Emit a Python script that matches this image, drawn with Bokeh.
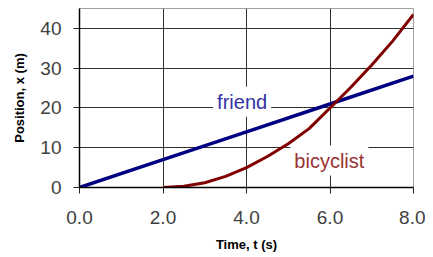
from bokeh.plotting import figure
from bokeh.models import Label, Range1d, FixedTicker
from bokeh.embed import file_html
from bokeh.resources import INLINE

# data
time_friend = [0, 2, 4, 6, 8]
pos_friend = [0, 7, 14, 21, 28]
time_bike = [2, 2.5, 3, 3.5, 4, 4.5, 5, 5.5, 6, 6.5, 7, 7.5, 8]
pos_bike = [0, 0.3, 1.2, 2.8, 5, 7.8, 11, 14.8, 20, 25.2, 30.8, 36.8, 43.5]
x_ticks = [0, 2, 4, 6, 8]
x_tick_labels = ["0.0", "2.0", "4.0", "6.0", "8.0"]
y_ticks = [0, 10, 20, 30, 40]

p = figure(width=425, height=255, output_backend="svg", toolbar_location=None,
           x_range=Range1d(0, 8), y_range=Range1d(0, 45),
           min_border_left=79, min_border_right=12, min_border_top=8,
           min_border_bottom=68)

p.outline_line_color = "#a0a0a0"
p.background_fill_color = "white"
p.border_fill_color = "white"

p.xaxis.ticker = FixedTicker(ticks=x_ticks)
p.yaxis.ticker = FixedTicker(ticks=y_ticks)
p.xaxis.major_label_overrides = {t: l for t, l in zip(x_ticks, x_tick_labels)}
p.xgrid.ticker = FixedTicker(ticks=x_ticks[1:])
p.ygrid.ticker = FixedTicker(ticks=y_ticks[1:])

for ax in (p.xaxis, p.yaxis):
    ax.axis_line_color = "black"
    ax.axis_line_width = 1.5
    ax.major_tick_line_color = "#222222"
    ax.major_tick_out = 6
    ax.major_tick_in = 0
    ax.minor_tick_out = 0
    ax.minor_tick_in = 0
    ax.major_label_text_font = "Liberation Sans"
    ax.major_label_text_font_size = "19px"
    ax.major_label_text_color = "#404040"
    ax.axis_label_text_font = "Liberation Sans"
    ax.axis_label_text_font_size = "13px"
    ax.axis_label_text_font_style = "bold"
    ax.axis_label_text_color = "black"

p.xaxis.axis_label = "Time, t (s)"
p.yaxis.axis_label = "Position, x (m)"
p.xaxis.major_label_standoff = 17
p.yaxis.major_label_standoff = 12
p.xaxis.axis_label_standoff = 10
p.yaxis.axis_label_standoff = 10

for g in (p.xgrid, p.ygrid):
    g.grid_line_color = "#303030"
    g.grid_line_width = 1

p.line(time_friend, pos_friend, line_color="#000080", line_width=3.5)
p.line(time_bike, pos_bike, line_color="#800000", line_width=3)

p.add_layout(Label(x=3.2, y=17.8, text="friend", text_font="Liberation Sans",
                   text_font_size="20px", text_color="#3333a6",
                   background_fill_color="white", padding=4))
p.add_layout(Label(x=5.05, y=3.0, text="bicyclist", text_font="Liberation Sans",
                   text_font_size="20px", text_color="#993333",
                   background_fill_color="white", padding=4))

open("out.html", "w").write(file_html(p, INLINE))
